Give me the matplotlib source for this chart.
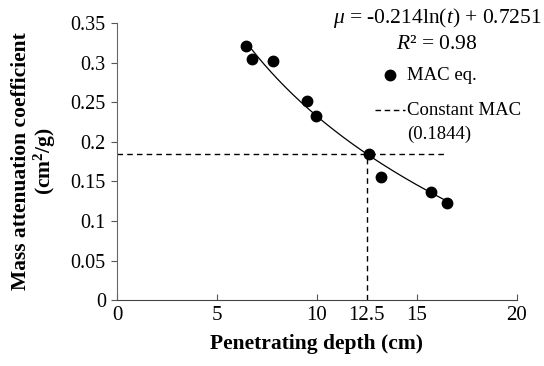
import numpy as np
import matplotlib.pyplot as plt

# measured points (MAC eq.)
depth = [6.45, 6.75, 7.8, 9.5, 9.95, 12.6, 13.2, 15.7, 16.5]
mac = [0.321, 0.304, 0.302, 0.251, 0.232, 0.184, 0.156, 0.137, 0.123]

# fit: mu = a*ln(t) + b
fit_a = -0.214
fit_b = 0.7251
fit_range = [6.45, 16.5]

const_mac = 0.1844
const_depth = 12.5
const_end = 16.5

xticks = [0, 5, 10, 12.5, 15, 20]
xtick_labels = ['0', '5', '10', '12.5', '15', '20']
yticks = [0, 0.05, 0.1, 0.15, 0.2, 0.25, 0.3, 0.35]
ytick_labels = ['0', '0.05', '0.1', '0.15', '0.2', '0.25', '0.3', '0.35']

plt.rcParams['font.family'] = 'Liberation Serif'
plt.rcParams['mathtext.fontset'] = 'custom'
plt.rcParams['mathtext.it'] = 'Liberation Serif:italic'
plt.rcParams['mathtext.rm'] = 'Liberation Serif'
plt.rcParams['mathtext.bf'] = 'Liberation Serif:bold'

fig = plt.figure(figsize=(5.44, 3.66), dpi=100)
ax = fig.add_axes([0.215, 0.18, 0.735, 0.757])

t = np.linspace(fit_range[0], fit_range[1], 200)
ax.plot(t, fit_a * np.log(t) + fit_b, color='black', lw=0.9)
ax.plot([0, const_end], [const_mac, const_mac], color='black', lw=1, ls=(0, (4, 3)))
ax.plot([const_depth, const_depth], [0, const_mac], color='black', lw=1, ls=(0, (4, 3)))
ax.plot(depth, mac, 'o', color='black', ms=7.5)

ax.set_xlim(0, 20)
ax.set_ylim(0, 0.35)
ax.set_xticks(xticks)
ax.set_xticklabels(xtick_labels, fontsize=15)
ax.set_yticks(yticks)
ax.set_yticklabels(ytick_labels, fontsize=14.5)
ax.tick_params(axis='x', direction='in', length=4, color='#555555', pad=4)
ax.tick_params(axis='y', direction='out', length=4, color='#555555', pad=4)
# no tick mark at 12.5
ax.xaxis.get_major_ticks()[3].tick1line.set_visible(False)

for s in ['top', 'right']:
    ax.spines[s].set_visible(False)
ax.spines['left'].set_color('#666666')
ax.spines['bottom'].set_color('#444444')

ax.set_xlabel('Penetrating depth (cm)', fontsize=15.5, fontweight='bold', labelpad=7)
ax.set_ylabel('Mass attenuation coefficient\n(cm$^\\mathbf{2}$/g)', fontsize=15.5,
              fontweight='bold', labelpad=9, linespacing=1.05)

fig.text(0.803, 0.95, '$\\mu$ = -0.214ln($t$) + 0.7251', fontsize=15.5, ha='center', va='center')
fig.text(0.803, 0.878, '$R$² = 0.98', fontsize=15.5, ha='center', va='center')

# legend drawn by hand
ax.plot([13.65], [0.284], 'o', color='black', ms=7.5, clip_on=False)
ax.text(14.5, 0.284, 'MAC eq.', fontsize=13.5, va='center')
ax.plot([12.9, 14.4], [0.24, 0.24], color='black', lw=1, ls=(0, (4, 2.6)))
ax.text(14.5, 0.24, 'Constant MAC', fontsize=13.5, va='center')
ax.text(14.5, 0.209, '(0.1844)', fontsize=13.5, va='center')

fig.savefig('out.png', dpi=100)
